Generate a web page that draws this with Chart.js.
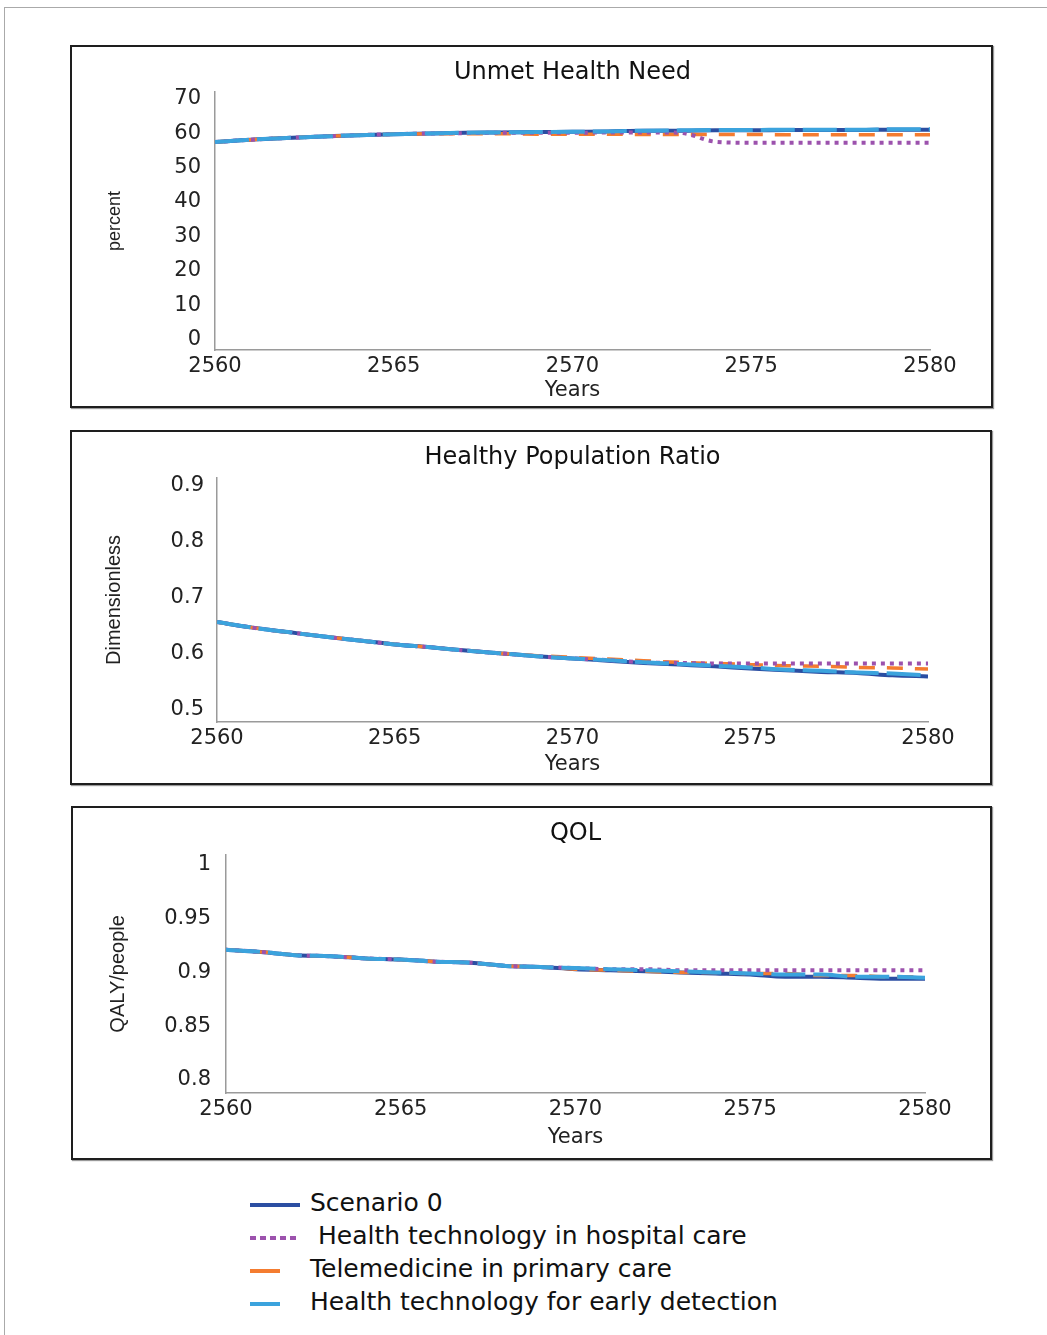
<!DOCTYPE html>
<html>
<head>
<meta charset="utf-8">
<script src="https://cdn.jsdelivr.net/npm/chart.js@4.4.1/dist/chart.umd.min.js"></script>
<style>
    body { margin: 0; background: #fff; width: 1047px; height: 1335px; overflow: hidden; position: relative; font-family: 'DejaVu Sans', sans-serif; }
    .frame { position: absolute; left: 4px; top: 7px; width: 1100px; height: 1340px; border: 1px solid #aaa; }
    .panel { position: absolute; box-sizing: border-box; border: 2px solid #1e1e1e; box-shadow: 1px 1px 1px #999; background: #fff; }
    .panel canvas { position: absolute; left: 0; top: 0; }
    .leg { position: absolute; left: 250px; height: 30px; font-size: 25px; color: #111; }
    .leg .sw { position: absolute; left: 0; top: 15px; height: 4px; }
    .leg span { position: absolute; white-space: nowrap; top: 0; }
</style>
</head>
<body>
<div class="frame"></div>

<div class="panel" style="left:70px; top:45px; width:923px; height:363px;">
    <canvas id="chartUnmet" width="919" height="359"></canvas>
</div>
<div class="panel" style="left:70px; top:430px; width:922px; height:355px;">
    <canvas id="chartHealthy" width="918" height="351"></canvas>
</div>
<div class="panel" style="left:71px; top:806px; width:921px; height:354px;">
    <canvas id="chartQol" width="917" height="350"></canvas>
</div>

<div class="leg" style="top:1188px;"><div class="sw" style="width:50px; background:#2b4ea2;"></div><span style="left:60px;">Scenario 0</span></div>
<div class="leg" style="top:1221px;"><div class="sw" style="width:50px; background:repeating-linear-gradient(90deg,#9c52ad 0 6px,transparent 6px 10px);"></div><span style="left:68px;">Health technology in hospital care</span></div>
<div class="leg" style="top:1254px;"><div class="sw" style="width:30px; background:#f47c30;"></div><span style="left:60px;">Telemedicine in primary care</span></div>
<div class="leg" style="top:1287px;"><div class="sw" style="width:30px; background:#3ba3dd;"></div><span style="left:60px;">Health technology for early detection</span></div>

<script>
// years 2560 - 2580
const years = [2560, 2561, 2562, 2563, 2564, 2565, 2566, 2567, 2568, 2569, 2570,
               2571, 2572, 2573, 2574, 2575, 2576, 2577, 2578, 2579, 2580];
const xTicks = [2560, 2565, 2570, 2575, 2580];
const seriesNames = ['Scenario 0', 'Health technology in hospital care', 'Telemedicine in primary care', 'Health technology for early detection'];

// Unmet Health Need (percent)
const unmetScenario0 = [57.4, 58.1, 58.6, 59.0, 59.4, 59.7, 59.9, 60.1, 60.2, 60.3, 60.4, 60.5, 60.7, 60.7, 60.8, 60.8, 60.9, 60.9, 60.9, 61.0, 61.0];
const unmetHospital  = [57.4, 58.1, 58.6, 59.0, 59.4, 59.7, 59.9, 60.0, 60.1, 60.1, 60.1, 60.2, 60.2, 60.1, 57.5, 57.2, 57.2, 57.2, 57.2, 57.2, 57.2];
const unmetTelemed   = [57.4, 58.1, 58.6, 59.0, 59.4, 59.7, 59.8, 59.8, 59.8, 59.7, 59.7, 59.7, 59.6, 59.6, 59.6, 59.6, 59.5, 59.5, 59.5, 59.5, 59.5];
const unmetEarly     = [57.4, 58.1, 58.6, 59.0, 59.4, 59.7, 59.9, 60.1, 60.2, 60.3, 60.4, 60.5, 60.7, 60.8, 60.9, 60.9, 61.0, 61.0, 61.0, 61.1, 61.1];
const unmetTicks = [0, 10, 20, 30, 40, 50, 60, 70];

// Healthy Population Ratio (dimensionless)
const healthyScenario0 = [0.657, 0.647, 0.639, 0.631, 0.624, 0.617, 0.612, 0.606, 0.601, 0.596, 0.592, 0.588, 0.584, 0.581, 0.578, 0.574, 0.571, 0.568, 0.566, 0.562, 0.560];
const healthyHospital  = [0.657, 0.647, 0.639, 0.631, 0.624, 0.617, 0.612, 0.606, 0.601, 0.596, 0.592, 0.589, 0.585, 0.584, 0.583, 0.583, 0.583, 0.583, 0.583, 0.583, 0.583];
const healthyTelemed   = [0.657, 0.647, 0.639, 0.631, 0.624, 0.617, 0.612, 0.606, 0.601, 0.597, 0.594, 0.591, 0.588, 0.585, 0.583, 0.581, 0.579, 0.578, 0.576, 0.575, 0.573];
const healthyEarly     = [0.657, 0.647, 0.639, 0.631, 0.624, 0.617, 0.612, 0.606, 0.601, 0.596, 0.592, 0.589, 0.585, 0.582, 0.579, 0.576, 0.572, 0.570, 0.567, 0.565, 0.562];
const healthyTicks = [0.5, 0.6, 0.7, 0.8, 0.9];

// QOL (QALY/people)
const qolScenario0 = [0.921, 0.919, 0.916, 0.915, 0.913, 0.912, 0.910, 0.909, 0.906, 0.905, 0.903, 0.902, 0.901, 0.900, 0.899, 0.898, 0.896, 0.896, 0.895, 0.894, 0.894];
const qolHospital  = [0.921, 0.919, 0.916, 0.915, 0.913, 0.912, 0.910, 0.909, 0.906, 0.905, 0.904, 0.903, 0.903, 0.902, 0.902, 0.902, 0.902, 0.902, 0.902, 0.902, 0.902];
const qolTelemed   = [0.921, 0.919, 0.916, 0.915, 0.913, 0.912, 0.910, 0.909, 0.906, 0.905, 0.903, 0.902, 0.901, 0.900, 0.900, 0.899, 0.899, 0.897, 0.897, 0.896, 0.896];
const qolEarly     = [0.921, 0.919, 0.916, 0.915, 0.913, 0.912, 0.910, 0.909, 0.906, 0.905, 0.904, 0.903, 0.902, 0.901, 0.900, 0.899, 0.898, 0.898, 0.896, 0.896, 0.895];
const qolTicks = [0.8, 0.85, 0.9, 0.95, 1];

const FONT = "'DejaVu Sans', sans-serif";
const NARROW = "'Liberation Sans', sans-serif";

const toPoints = (vals) => years.map((yr, i) => ({ x: yr, y: vals[i] }));

const lineStyles = [
    { borderColor: '#2b4ea2', borderWidth: 4, borderDash: [], order: 3 },
    { borderColor: '#9c52ad', borderWidth: 4, borderDash: [4, 5], order: 1 },
    { borderColor: '#f47c30', borderWidth: 3.5, borderDash: [16, 12], order: 2 },
    { borderColor: '#3ba3dd', borderWidth: 4, borderDash: [34, 8], order: 0 }
];

function makeChart(id, opt) {
    const ctx = document.getElementById(id).getContext('2d');
    const datasets = opt.series.map((vals, i) => ({
        label: seriesNames[i],
        data: toPoints(vals),
        ...lineStyles[i],
        pointRadius: 0,
        fill: false,
        cubicInterpolationMode: 'monotone'
    }));

    return new Chart(ctx, {
        type: 'line',
        data: { datasets },
        options: {
            responsive: false,
            animation: false,
            layout: { padding: { left: 0, right: opt.padRight, top: 0, bottom: 0 } },
            plugins: {
                legend: { display: false },
                tooltip: { enabled: false },
                title: {
                    display: true,
                    fullSize: false,
                    text: opt.title,
                    color: '#111',
                    font: { family: FONT, size: 24, weight: 'normal' },
                    padding: { top: 11, bottom: opt.titleGap }
                }
            },
            scales: {
                x: {
                    type: 'linear',
                    min: 2560, max: 2580,
                    afterBuildTicks: (s) => { s.ticks = xTicks.map(v => ({ value: v })); },
                    afterFit: (s) => { s.height = opt.xHeight; },
                    grid: { display: false, drawTicks: false },
                    border: { display: true, color: '#9a9a9a', width: 1.5 },
                    ticks: {
                        padding: 4,
                        maxRotation: 0,
                        color: '#222',
                        font: { family: FONT, size: 21 },
                        callback: (v) => String(v)
                    },
                    title: {
                        display: true,
                        text: 'Years',
                        color: '#222',
                        font: { family: FONT, size: 21 },
                        padding: { top: 0, bottom: opt.yearsPad }
                    }
                },
                y: {
                    type: 'linear',
                    min: opt.yMin, max: opt.yMax,
                    afterBuildTicks: (s) => { s.ticks = opt.yTicks.map(v => ({ value: v })); },
                    afterFit: (s) => { s.width = opt.yWidth; },
                    grid: { display: false, drawTicks: false },
                    border: { display: true, color: '#9a9a9a', width: 1.5 },
                    ticks: {
                        padding: opt.tickPad,
                        color: '#222',
                        font: { family: FONT, size: 21 },
                        callback: (v) => String(Number(v.toFixed(2)))
                    },
                    title: {
                        display: true,
                        text: opt.yTitle,
                        color: '#222',
                        font: { family: NARROW, size: opt.yTitleSize },
                        padding: { top: opt.yTitlePad, bottom: 0 }
                    }
                }
            }
        }
    });
}

makeChart('chartUnmet', {
    title: 'Unmet Health Need',
    series: [unmetScenario0, unmetHospital, unmetTelemed, unmetEarly],
    yTicks: unmetTicks, yMin: -3, yMax: 72,
    yTitle: 'percent',
    yTitleSize: 18,
    yTitlePad: 32,
    yWidth: 143,
    tickPad: 14,
    padRight: 61,
    titleGap: 5,
    xHeight: 56,
    yearsPad: 3
});

makeChart('chartHealthy', {
    title: 'Healthy Population Ratio',
    series: [healthyScenario0, healthyHospital, healthyTelemed, healthyEarly],
    yTicks: healthyTicks, yMin: 0.4786, yMax: 0.9143,
    yTitle: 'Dimensionless',
    yTitleSize: 20,
    yTitlePad: 30,
    yWidth: 145,
    tickPad: 13,
    padRight: 62,
    titleGap: 6,
    xHeight: 61,
    yearsPad: 6
});

makeChart('chartQol', {
    title: 'QOL',
    series: [qolScenario0, qolHospital, qolTelemed, qolEarly],
    yTicks: qolTicks, yMin: 0.7879, yMax: 1.0093,
    yTitle: 'QALY/people',
    yTitleSize: 20,
    yTitlePad: 33,
    yWidth: 153,
    tickPad: 15,
    padRight: 65,
    titleGap: 7,
    xHeight: 65,
    yearsPad: 8
});
</script>
</body>
</html>
